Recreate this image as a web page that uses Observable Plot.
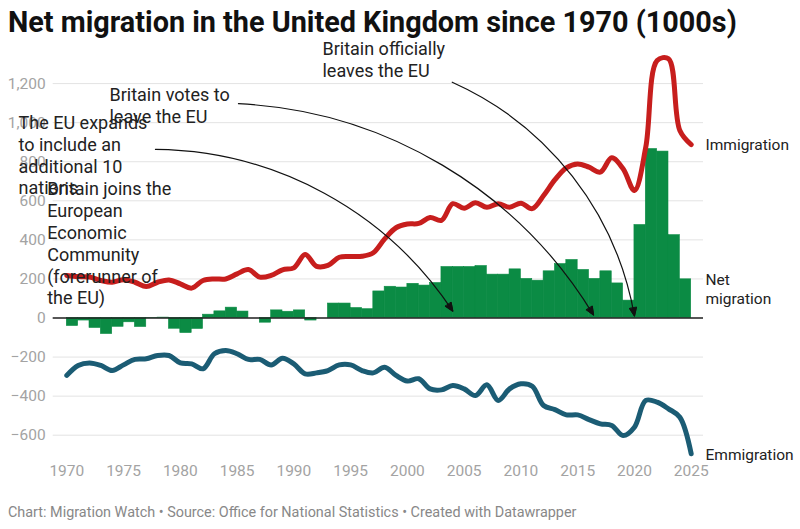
<!DOCTYPE html>
<html><head><meta charset="utf-8">
<script src="https://cdn.jsdelivr.net/npm/d3@7"></script>
<script src="https://cdn.jsdelivr.net/npm/@observablehq/plot@0.6"></script>
<style>
body{margin:0;background:#fff;font-family:Roboto,sans-serif;}
#title{height:44px;line-height:44px;padding-left:8px;font-weight:700;font-size:28.8px;color:#111;white-space:nowrap;}
#footer{height:35px;line-height:38px;padding-left:8px;font-size:14.4px;color:#888;white-space:nowrap;}
svg{display:block;}
</style></head><body>
<div id="title">Net migration in the United Kingdom since 1970 (1000s)</div>
<div id="chart"></div>
<div id="footer">Chart: Migration Watch • Source: Office for National Statistics • Created with Datawrapper</div>
<script>
const years = [1970,1971,1972,1973,1974,1975,1976,1977,1978,1979,1980,1981,1982,1983,1984,1985,1986,1987,1988,1989,1990,1991,1992,1993,1994,1995,1996,1997,1998,1999,2000,2001,2002,2003,2004,2005,2006,2007,2008,2009,2010,2011,2012,2013,2014,2015,2016,2017,2018,2019,2020,2021,2022,2023,2024,2025];
const immigration = [218,212,210,192,183,196,183,161,183,195,175,153,192,200,200,226,248,209,218,247,257,325,264,269,311,315,316,334,405,462,481,484,514,500,585,562,590,567,585,567,588,560,627,708,769,789,772,747,820,764,653,875,1318,1327,960,888];
const emigration = [-294,-243,-230,-243,-269,-240,-212,-209,-192,-192,-230,-235,-260,-183,-166,-183,-212,-212,-240,-206,-235,-286,-281,-269,-240,-240,-269,-281,-252,-294,-323,-311,-363,-368,-346,-363,-397,-342,-422,-363,-337,-349,-448,-469,-496,-496,-520,-542,-550,-602,-559,-422,-431,-465,-508,-695];
const netMigration = [null,-41,-13,-51,-82,-45,-22,-46,-1,2,-55,-77,-56,17,34,53,33,0,-24,39,32,39,-13,0,74,74,51,45,136,160,156,175,166,179,261,261,261,266,222,222,249,200,191,239,276,297,246,200,239,177,89,476,865,852,424,198];
const yTicks = [-600,-400,-200,0,200,400,600,800,1000,1200];
const xTicks = [1970,1975,1980,1985,1990,1995,2000,2005,2010,2015,2020,2025];
const seriesNames = ["Immigration","Net\nmigration","Emmigration"];

const noteLabels = ["Britain joins the\nEuropean\nEconomic\nCommunity\n(forerunner of\nthe EU)","The EU expands\nto include an\nadditional 10\nnations","Britain votes to\nleave the EU","Britain officially\nleaves the EU"];
const noteX = [1968.27,1965.75,1973.76,1992.52];
const noteY = [384,836,1092,1326];
const arrowFromX = [1977.81,1985.12,2003.95];
const arrowFromY = [863,1097,1207];
const arrowToX = [2004.0,2016.4,2020.0];
const arrowToY = [35,15,10];

const rows = years.map((year,i)=>({year, immigration: immigration[i], emigration: emigration[i], net: netMigration[i]}));
const netRows = rows.filter(d=>d.net!==null);
const notes = noteLabels.map((label,i)=>({label, x: noteX[i], y: noteY[i]}));
const arrows = arrowFromX.map((x1,i)=>({x1, y1: arrowFromY[i], x2: arrowToX[i], y2: arrowToY[i]}));
const last = rows[rows.length-1];

const RED="#c71e1d", BLUE="#1b5c74", GREEN="#0b8b44";
const labelStyle = {textAnchor: "start", lineAnchor: "middle", fontSize: 15.5, lineHeight: 1.2, fill: "#222", dx: 14.3};

const chart = Plot.plot({
  width: 800, height: 450,
  marginLeft: 52.7, marginRight: 97, marginTop: 0, marginBottom: 39,
  style: {fontFamily: "Roboto", fontSize: "15.5px", background: "white", overflow: "visible"},
  x: {domain: [1970, 2025], range: [66.3, 690.7]},
  y: {domain: [-600, 1200], range: [390.7, 39.1]},
  marks: [
    Plot.gridY(yTicks, {stroke: "#e3e3e3", strokeOpacity: 1}),
    Plot.axisY(yTicks, {tickSize: 0, tickPadding: 7.5, tickFormat: d3.format(","), color: "#a3a3a3", label: null}),
    Plot.axisX(xTicks, {tickSize: 0, tickPadding: 9.7, tickFormat: d=>String(d), color: "#a3a3a3", label: null}),
    Plot.rectY(netRows, {x1: d=>d.year-1, x2: "year", y: "net", fill: GREEN, stroke: GREEN, strokeWidth: 0.6, inset: 0}),
    Plot.ruleY([0], {stroke: "#222", strokeWidth: 1.5}),
    Plot.line(rows, {x: "year", y: "immigration", stroke: RED, strokeWidth: 5, curve: "catmull-rom"}),
    Plot.line(rows, {x: "year", y: "emigration", stroke: BLUE, strokeWidth: 5, curve: "catmull-rom"}),
    Plot.text(notes, {x: "x", y: "y", text: "label", textAnchor: "start", lineAnchor: "middle", fontSize: 18, lineHeight: 1.211, fill: "#222"}),
    Plot.arrow(arrows, {x1: "x1", y1: "y1", x2: "x2", y2: "y2", bend: 28, stroke: "#111", strokeWidth: 1.2, headLength: 11, headAngle: 45}),
    Plot.text([last], {x: "year", y: "immigration", text: () => seriesNames[0], ...labelStyle}),
    Plot.text([last], {x: "year", y: "net", text: () => seriesNames[1], ...labelStyle, dy: 9}),
    Plot.text([last], {x: "year", y: "emigration", text: () => seriesNames[2], ...labelStyle})
  ]
});
// fill arrowheads
chart.querySelectorAll('g[aria-label="arrow"] path').forEach(p=>{
  const d = p.getAttribute("d");
  const i = d.indexOf("M", 1);
  if (i > 0) {
    const h = document.createElementNS("http://www.w3.org/2000/svg","path");
    h.setAttribute("d", d.slice(i) + "Z");
    h.setAttribute("fill", "#111");
    h.setAttribute("stroke", "#111");
    h.setAttribute("stroke-width", "1");
    p.parentNode.appendChild(h);
  }
});
document.getElementById("chart").appendChild(chart);
</script>
</body></html>
